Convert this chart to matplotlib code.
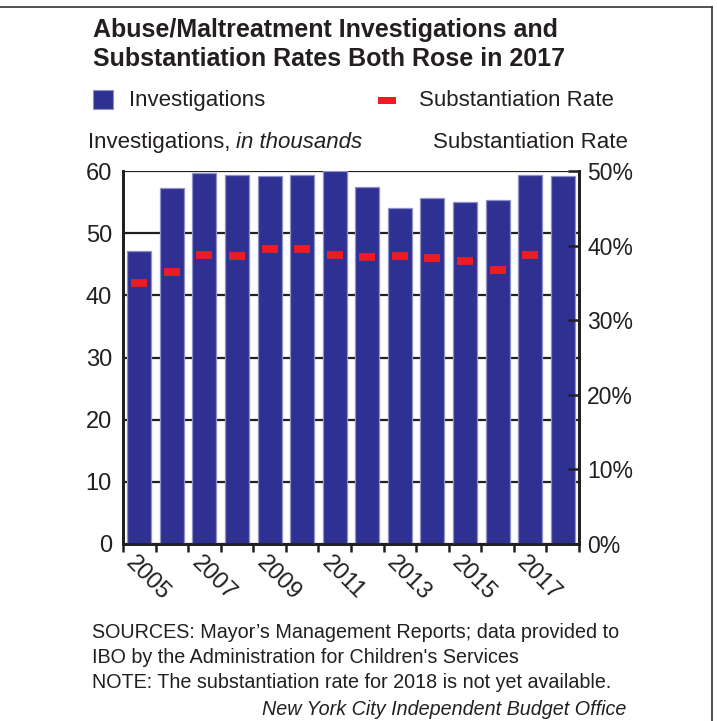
import matplotlib
matplotlib.use("Agg")
import matplotlib.pyplot as plt
from matplotlib.patches import Rectangle
from matplotlib.lines import Line2D
import numpy as np

# ---- data -------------------------------------------------------------
years = [2005, 2006, 2007, 2008, 2009, 2010, 2011, 2012, 2013, 2014, 2015, 2016, 2017, 2018]
investigations = [47.1, 57.2, 59.7, 59.4, 59.2, 59.3, 60.0, 57.5, 54.1, 55.6, 55.0, 55.4, 59.4, 59.2]
# substantiation rate in percent (2018 not yet available)
rates = [35.0, 36.5, 38.7, 38.6, 39.6, 39.6, 38.7, 38.5, 38.6, 38.4, 38.0, 36.7, 38.8, None]
left_ticks = [0, 10, 20, 30, 40, 50, 60]
right_ticks = [0, 10, 20, 30, 40, 50]
labelled_years = [2005, 2007, 2009, 2011, 2013, 2015, 2017]

title_lines = ["Abuse/Maltreatment Investigations and",
               "Substantiation Rates Both Rose in 2017"]
notes = ["SOURCES: Mayor\u2019s Management Reports; data provided to",
         "IBO by the Administration for Children's Services",
         "NOTE: The substantiation rate for 2018 is not yet available."]
credit = "New York City Independent Budget Office"

# ---- style ------------------------------------------------------------
BLUE = "#2E3192"
BLUE_EDGE = "#8E90C9"
RED = "#ED1C24"
INK = "#231F20"
FONT = "Liberation Sans"
plt.rcParams["font.family"] = [FONT, "DejaVu Sans"]
plt.rcParams["text.color"] = INK

W, H = 717, 721
fig = plt.figure(figsize=(W / 100, H / 100), dpi=100)


def fx(x):
    return x / W


def fy(y):
    return 1 - y / H


ax = fig.add_axes([fx(123), fy(544), fx(579) - fx(123), fy(171) - fy(544)])
ax2 = ax.twinx()

x = np.arange(len(years))

# bars
ax.bar(x, investigations, width=0.74, color=BLUE, edgecolor=BLUE_EDGE,
       linewidth=0.9, zorder=3)
ax.set_xlim(-0.5, len(years) - 0.5)
ax.set_ylim(0, 60)
ax.set_yticks(left_ticks)
ax.grid(axis="y", color=INK, linewidth=1.6, zorder=0)
ax.set_axisbelow(True)
ax.tick_params(axis="y", length=0, pad=8, labelsize=17, labelcolor=INK)

# x ticks at bar boundaries, year labels placed under the bars
ax.set_xticks(np.arange(len(years) + 1) - 0.5)
ax.set_xticklabels([])
ax.tick_params(axis="x", direction="out", length=6, width=1.8, color=INK)
for yr in labelled_years:
    i = years.index(yr)
    ax.annotate(str(yr), xy=(i, 0), xycoords=("data", "axes fraction"),
                xytext=(-2, -8), textcoords="offset pixels",
                rotation=-45, rotation_mode="anchor", ha="left", va="top",
                fontsize=17, color=INK)

for side in ("left", "bottom", "right"):
    ax.spines[side].set_linewidth(2.0)
    ax.spines[side].set_color(INK)
    ax2.spines[side].set_linewidth(2.0)
    ax2.spines[side].set_color(INK)
ax.spines["top"].set_visible(False)
ax2.spines["top"].set_visible(False)

# substantiation rate markers on the right axis
rx = [i for i, r in enumerate(rates) if r is not None]
ry = [r for r in rates if r is not None]
ax2.plot(rx, ry, linestyle="none", marker="_", markersize=11.5,
         markeredgewidth=5.6, color=RED, zorder=4)
ax2.set_ylim(0, 50)
ax2.set_yticks(right_ticks)
ax2.set_yticklabels([f"{t}%" for t in right_ticks])
ax2.tick_params(axis="y", direction="in", length=8, width=1.8, color=INK,
                pad=6, labelsize=16.5, labelcolor=INK)
ax.set_zorder(ax2.get_zorder() - 1)
ax.patch.set_visible(True)
ax2.patch.set_visible(False)

# ---- title ------------------------------------------------------------
fig.text(fx(93), fy(37), title_lines[0], fontsize=18, fontweight="bold",
         va="baseline", ha="left", color=INK)
fig.text(fx(93), fy(66), title_lines[1], fontsize=18, fontweight="bold",
         va="baseline", ha="left", color=INK)

# ---- legend -----------------------------------------------------------
fig.patches.append(Rectangle((fx(93), fy(109)), fx(20), 19 / H,
                             transform=fig.transFigure, facecolor=BLUE,
                             edgecolor=BLUE_EDGE, linewidth=0.8))
fig.text(fx(129), fy(106), "Investigations", fontsize=16, va="baseline", ha="left")
fig.patches.append(Rectangle((fx(378), fy(104)), fx(18), 7 / H,
                             transform=fig.transFigure, facecolor=RED,
                             edgecolor="none"))
fig.text(fx(419), fy(106), "Substantiation Rate", fontsize=16, va="baseline", ha="left")

# ---- axis titles ------------------------------------------------------
t1 = fig.text(fx(88), fy(148), "Investigations, ", fontsize=16, va="baseline", ha="left")
fig.canvas.draw()
bb = t1.get_window_extent(renderer=fig.canvas.get_renderer())
fig.text(bb.x1 / W, fy(148), "in thousands", fontsize=16, style="italic",
         va="baseline", ha="left")
fig.text(fx(433), fy(148), "Substantiation Rate", fontsize=16, va="baseline", ha="left")

# ---- notes ------------------------------------------------------------
for k, line in enumerate(notes):
    fig.text(fx(92), fy(638.5 + 24.5 * k), line, fontsize=14.2,
             va="baseline", ha="left")
fig.text(fx(626), fy(715), credit, fontsize=14.2, style="italic",
         va="baseline", ha="right")

# ---- frame ------------------------------------------------------------
fig.add_artist(Line2D([0, fx(712)], [fy(7), fy(7)], transform=fig.transFigure,
                      color="#333333", linewidth=1.2))
fig.add_artist(Line2D([fx(712), fx(712)], [fy(7), 0], transform=fig.transFigure,
                      color="#333333", linewidth=1.2))

fig.savefig("out.png", dpi=100)
